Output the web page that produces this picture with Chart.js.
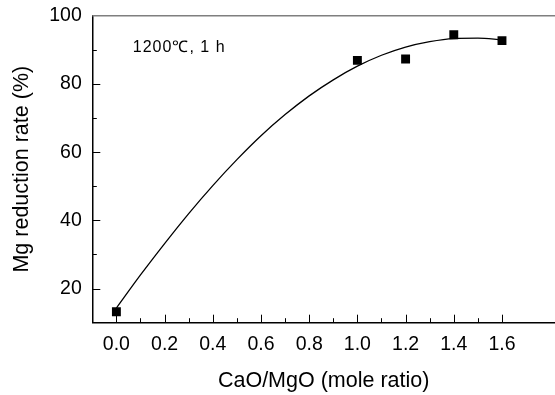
<!DOCTYPE html>
<html>
<head>
<meta charset="utf-8">
<script src="https://cdn.jsdelivr.net/npm/chart.js@4/dist/chart.umd.min.js"></script>
<style>
    html, body { margin: 0; padding: 0; background: #fff; overflow: hidden; }
    #wrap { width: 555px; height: 395px; }
</style>
</head>
<body>
<div id="wrap"><canvas id="reduction-chart" width="555" height="395"></canvas></div>
<script>
// Measured points (CaO/MgO mole ratio vs Mg reduction rate)
const ratioPoints = [0.0, 1.0, 1.2, 1.4, 1.6];
const reductionRates = [13.2, 86.9, 87.3, 94.4, 92.7];

// Fitted curve
const fitRatios = [0.0, 0.1, 0.2, 0.3, 0.4, 0.5, 0.6, 0.7, 0.8, 0.9, 1.0, 1.1, 1.2, 1.3, 1.4, 1.5, 1.6];
const fitRates = [14.3, 24.0, 33.2, 42.0, 50.2, 57.8, 64.8, 71.0, 76.5, 81.2, 85.2, 88.4, 90.8, 92.4, 93.3, 93.4, 92.9];

// Axis ticks
const xTickValues = [0.0, 0.2, 0.4, 0.6, 0.8, 1.0, 1.2, 1.4, 1.6];
const xMinorTicks = [0.1, 0.3, 0.5, 0.7, 0.9, 1.1, 1.3, 1.5];
const yTickValues = [20, 40, 60, 80, 100];
const yMinorTicks = [30, 50, 70, 90];

const conditionLabel = '1200\u2103, 1 h';
const FONT = "'Liberation Sans', Arial, Helvetica, sans-serif";

// Inward tick marks, the top frame line and the condition label
const frameTicks = {
    id: 'frameTicks',
    afterDraw(chart) {
        const ctx = chart.ctx;
        const xs = chart.scales.x;
        const ys = chart.scales.y;
        const area = chart.chartArea;
        ctx.save();

        // top frame line (grey)
        ctx.strokeStyle = '#7f7f7f';
        ctx.lineWidth = 1.5;
        ctx.beginPath();
        ctx.moveTo(area.left, ys.getPixelForValue(100));
        ctx.lineTo(area.right, ys.getPixelForValue(100));
        ctx.stroke();

        ctx.strokeStyle = '#000';
        ctx.lineWidth = 1;
        const bottom = area.bottom;
        const left = area.left;
        const mark = (vals, len, horizontal) => {
            vals.forEach(v => {
                ctx.beginPath();
                if (horizontal) {
                    const px = Math.round(xs.getPixelForValue(v)) + 0.5;
                    ctx.moveTo(px, bottom);
                    ctx.lineTo(px, bottom - len);
                } else {
                    const py = Math.round(ys.getPixelForValue(v)) + 0.5;
                    ctx.moveTo(left, py);
                    ctx.lineTo(left + len, py);
                }
                ctx.stroke();
            });
        };
        mark(xTickValues, 8, true);
        mark(xMinorTicks, 4.5, true);
        mark(yTickValues.filter(v => v < 100), 8, false);
        mark(yMinorTicks, 4.5, false);

        // condition label
        ctx.fillStyle = '#000';
        ctx.font = '16px ' + FONT;
        ctx.letterSpacing = '1px';
        ctx.textBaseline = 'middle';
        ctx.textAlign = 'left';
        ctx.fillText(conditionLabel, area.left + 40.5, area.top + 31.5);
        ctx.restore();
    }
};

const ctx = document.getElementById('reduction-chart');
new Chart(ctx, {
    type: 'scatter',
    data: {
        datasets: [
            {
                label: 'fit',
                data: fitRatios.map((x, i) => ({ x: x, y: fitRates[i] })),
                showLine: true,
                borderColor: '#000',
                borderWidth: 1.3,
                pointRadius: 0,
                cubicInterpolationMode: 'monotone',
                fill: false,
                order: 2
            },
            {
                label: 'measured',
                data: ratioPoints.map((x, i) => ({ x: x, y: reductionRates[i] })),
                pointStyle: 'rect',
                pointRadius: 6.3,
                backgroundColor: '#000',
                borderColor: '#000',
                borderWidth: 0,
                order: 1
            }
        ]
    },
    options: {
        responsive: false,
        animation: false,
        layout: {
            autoPadding: false,
            padding: { left: 0, right: 0, top: 15.7, bottom: 0 }
        },
        plugins: {
            legend: { display: false },
            tooltip: { enabled: false }
        },
        scales: {
            x: {
                type: 'linear',
                min: -0.1,
                max: 1.82,
                grid: { display: false, drawTicks: false },
                border: { display: true, color: '#000', width: 1.5 },
                afterBuildTicks: function(scale) {
                    scale.ticks = xTickValues.map(v => ({ value: v }));
                },
                afterFit: function(scale) {
                    scale.height = 72.3;
                    scale.paddingLeft = 0;
                    scale.paddingRight = 0;
                },
                ticks: {
                    padding: 10,
                    color: '#000',
                    font: { family: FONT, size: 19.5 },
                    maxRotation: 0,
                    callback: function(value) {
                        return Number(value).toFixed(1);
                    }
                },
                title: {
                    display: true,
                    text: 'CaO/MgO (mole ratio)',
                    color: '#000',
                    font: { family: FONT, size: 21.5 },
                    padding: { top: 0, bottom: 1 }
                }
            },
            y: {
                type: 'linear',
                min: 10,
                max: 100,
                grid: { display: false, drawTicks: false },
                border: { display: true, color: '#000', width: 1.5 },
                afterBuildTicks: function(scale) {
                    scale.ticks = yTickValues.map(v => ({ value: v }));
                },
                afterFit: function(scale) {
                    scale.width = 92.3;
                    scale.paddingTop = 0;
                    scale.paddingBottom = 0;
                },
                ticks: {
                    padding: 10.5,
                    color: '#000',
                    font: { family: FONT, size: 19.5 }
                },
                title: {
                    display: true,
                    text: 'Mg reduction rate (%)',
                    color: '#000',
                    font: { family: FONT, size: 21.5 },
                    padding: { top: 9, bottom: 0 }
                }
            }
        }
    },
    plugins: [frameTicks]
});
</script>
</body>
</html>
